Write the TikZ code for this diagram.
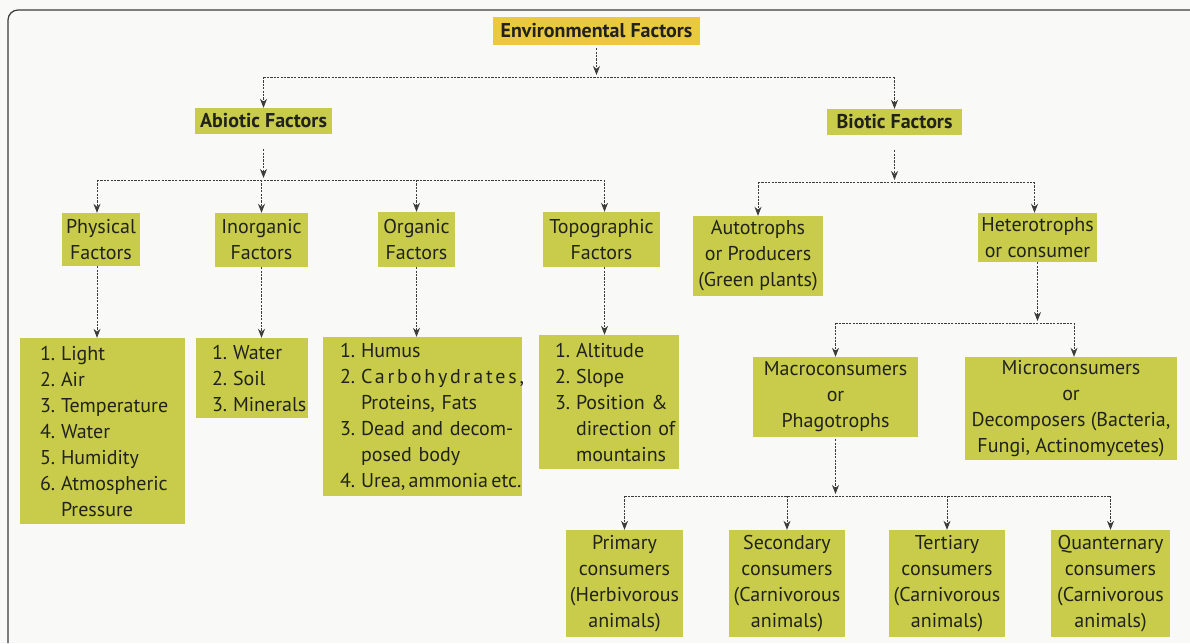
\documentclass[tikz,border=0pt]{standalone}
\usepackage{fontspec}
\setmainfont{PT Sans}
\usetikzlibrary{arrows.meta}
\definecolor{boxfill}{RGB}{200,204,74}
\definecolor{topfill}{RGB}{233,201,62}
\definecolor{ink}{RGB}{34,34,28}
\definecolor{wire}{RGB}{60,60,60}
\definecolor{paper}{RGB}{249,249,247}
% one list line: number in a fixed slot, then the item, never broken
\newcommand\li[2]{\mbox{\makebox[1.05em][l]{#1}#2}}
\begin{document}
\begin{tikzpicture}[x=1pt,y=-1pt,
  every node/.style={font=\fontsize{20}{26}\selectfont, text=ink},
  box/.style={fill=boxfill, inner sep=0pt, align=center},
  listbox/.style={fill=boxfill, inner sep=0pt, align=left},
  headbox/.style={box, font=\fontsize{20}{24}\selectfont\bfseries},
  wireline/.style={draw=wire, line width=0.8pt, dash pattern=on 2.2pt off 1.2pt},
  arr/.style={wireline, -{Stealth[length=9pt,width=7pt]}},
]
\useasboundingbox (0,0) rectangle (1190,643);
\fill[paper] (0,0) rectangle (1190,643);
% page frame
\draw[wire, line width=1.2pt, rounded corners=10pt] (8,643) -- (8,10) -- (1190,10);

% top level
\node[headbox, fill=topfill, minimum width=207pt, minimum height=28pt] (env) at (596.5,31) {Environmental Factors};
\node[headbox, minimum width=137pt, minimum height=26pt] (abio) at (263.5,121) {Abiotic Factors};
\node[headbox, minimum width=135pt, minimum height=26pt] (bio) at (894.5,122) {Biotic Factors};

% abiotic branch
\node[box, minimum width=78pt, minimum height=53pt] (phys) at (101,239.5) {Physical\\Factors};
\node[box, minimum width=93pt, minimum height=54pt] (inorg) at (261.5,240) {Inorganic\\Factors};
\node[box, minimum width=77pt, minimum height=55pt] (org) at (416.5,239.5) {Organic\\Factors};
\node[box, minimum width=117pt, minimum height=55pt] (topo) at (601.5,239.5) {Topographic\\Factors};

\node[listbox, minimum width=165pt, minimum height=186pt, text width=125pt] (physL) at (102.5,431)
  {\li{1.}{Light}\\ \li{2.}{Air}\\ \li{3.}{Temperature}\\ \li{4.}{Water}\\ \li{5.}{Humidity}\\ \li{6.}{Atmospheric}\\ \li{}{Pressure}};
\node[listbox, minimum width=112pt, minimum height=80pt, text width=80pt] (inorgL) at (252,378)
  {\li{1.}{Water}\\ \li{2.}{Soil}\\ \li{3.}{Minerals}};
\node[listbox, minimum width=199pt, minimum height=159pt, text width=165pt] (orgL) at (422.5,416.5)
  {\li{1.}{Humus}\\ \li{2.}{{\addfontfeature{LetterSpace=14}Carbohydrates,}}\\ \li{}{Proteins, Fats}\\ \li{3.}{Dead and decom-}\\ \li{}{posed body}\\ \li{4.}{Urea,\,ammonia\,etc.}};
\node[listbox, minimum width=140pt, minimum height=134pt, text width=108pt] (topoL) at (609,402)
  {\li{1.}{Altitude}\\ \li{2.}{Slope}\\ \li{3.}{\makebox[100pt][s]{Position \&}}\\ \li{}{direction of}\\ \li{}{mountains}};

% biotic branch
\node[box, minimum width=130pt, minimum height=80pt] (auto) at (758,256) {Autotrophs\\or Producers\\(Green plants)};
\node[box, minimum width=119pt, minimum height=49pt] (hetero) at (1037.5,237.5) {Heterotrophs\\or consumer};
\node[box, minimum width=165pt, minimum height=80pt] (macro) at (835.5,397) {Macroconsumers\\or\\Phagotrophs};
\node[box, minimum width=212pt, minimum height=103pt] (micro) at (1071,408.5) {Microconsumers\\or\\Decomposers (Bacteria,\\Fungi, Actinomycetes)};

\node[box, minimum width=117pt, minimum height=107pt] (prim) at (624.5,583.5) {Primary\\consumers\\(Herbivorous\\animals)};
\node[box, minimum width=116pt, minimum height=107pt] (sec) at (787,583.5) {Secondary\\consumers\\(Carnivorous\\animals)};
\node[box, minimum width=116pt, minimum height=107pt] (ter) at (947,583.5) {Tertiary\\consumers\\(Carnivorous\\animals)};
\node[box, minimum width=119pt, minimum height=107pt] (quan) at (1110.5,583.5) {Quanternary\\consumers\\(Carnivorous\\animals)};

% bus levels
\coordinate (bus0) at (0,77);
\coordinate (bus1) at (0,180);
\coordinate (bus2) at (0,182);
\coordinate (bus3) at (0,323);
\coordinate (bus4) at (0,496);

% Environmental -> Abiotic / Biotic
\draw[arr, shorten <=3pt, shorten >=2pt] (env.south) -- (env.south |- bus0);
\draw[wireline] (abio.north |- bus0) -- (bio.north |- bus0);
\draw[arr] (abio.north |- bus0) -- (abio.north);
\draw[arr] (bio.north |- bus0) -- (bio.north);

% Abiotic -> four factor groups
\draw[arr, shorten <=15pt, shorten >=2pt] (abio.south) -- (abio.south |- bus1);
\draw[wireline] ([xshift=-4pt]phys.north |- bus1) -- ([xshift=3pt]topo.north |- bus1);
\draw[arr] ([xshift=-4pt]phys.north |- bus1) -- ([xshift=-4pt]phys.north);
\draw[arr] (inorg.north |- bus1) -- (inorg.north);
\draw[arr] (org.north |- bus1) -- (org.north);
\draw[arr] ([xshift=3pt]topo.north |- bus1) -- ([xshift=3pt]topo.north);

% factor groups -> lists
\draw[arr] ([xshift=-4pt]phys.south) -- ([xshift=-4pt]phys.south |- physL.north);
\draw[arr] (inorg.south) -- (inorg.south |- inorgL.north);
\draw[arr] (org.south) -- (org.south |- orgL.north);
\draw[arr] ([xshift=3pt]topo.south) -- ([xshift=3pt]topo.south |- topoL.north);

% Biotic -> Autotrophs / Heterotrophs
\draw[arr, shorten <=15pt, shorten >=2pt] (bio.south) -- (bio.south |- bus2);
\draw[wireline] (auto.north |- bus2) -- ([xshift=-3pt]hetero.north |- bus2);
\draw[arr] (auto.north |- bus2) -- (auto.north);
\draw[arr] ([xshift=-3pt]hetero.north |- bus2) -- ([xshift=-3pt]hetero.north);

% Heterotrophs -> Macro / Micro consumers
\draw[arr, shorten >=2pt] (hetero.south) -- (hetero.south |- bus3);
\draw[wireline] (macro.north |- bus3) -- ([xshift=3pt]micro.north |- bus3);
\draw[arr] (macro.north |- bus3) -- (macro.north);
\draw[arr] ([xshift=3pt]micro.north |- bus3) -- ([xshift=3pt]micro.north);

% Macroconsumers -> consumer levels
\draw[arr, shorten <=2pt, shorten >=2pt] (macro.south) -- (macro.south |- bus4);
\draw[wireline] (prim.north |- bus4) -- (quan.north |- bus4);
\draw[arr] (prim.north |- bus4) -- (prim.north);
\draw[arr] (sec.north |- bus4) -- (sec.north);
\draw[arr] (ter.north |- bus4) -- (ter.north);
\draw[arr] (quan.north |- bus4) -- (quan.north);
\end{tikzpicture}
\end{document}
